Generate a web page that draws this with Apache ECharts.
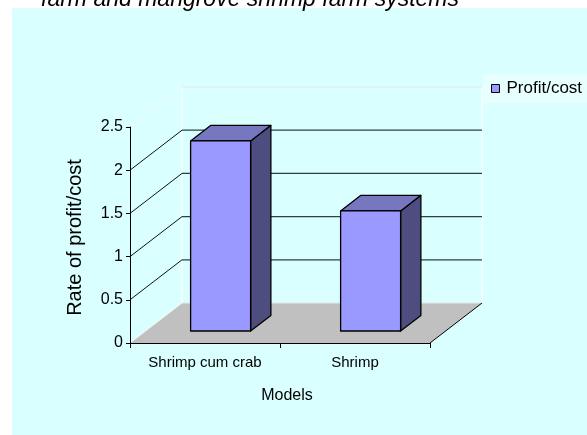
<!DOCTYPE html>
<html>
<head>
<meta charset="utf-8">
<script src="https://cdn.jsdelivr.net/npm/echarts@6/dist/echarts.min.js"></script>
<style>
  html, body { margin: 0; padding: 0; background: #fff; }
  #chart { width: 587px; height: 435px; }
</style>
</head>
<body>
<div id="chart"></div>
<script>
const titleText = 'farm and mangrove shrimp farm systems'
const seriesName = 'Profit/cost'
const categories = ['Shrimp cum crab', 'Shrimp']
const profitCost = [2.2, 1.39]
const yTicks = [0, 0.5, 1, 1.5, 2, 2.5]

// depth of the fake 3D box, in pixels (x right, y up)
const DX = 52
const DY = -40
const BAR_FRONT = 0.3
const BAR_BACK = 0.69

const FONT = '"Liberation Sans", Arial, sans-serif'

const chart = echarts.init(document.getElementById('chart'))

const barData = categories.map((c, i) => [i, profitCost[i]])

const option = {
  animation: false,
  backgroundColor: '#ffffff',
  graphic: [
    {
      type: 'rect',
      shape: { x: 12, y: 8, width: 575, height: 427 },
      style: { fill: '#d9ffff' },
      z: -10
    },
    {
      type: 'text',
      x: 250,
      y: 11,
      style: {
        text: titleText,
        fill: '#000',
        font: 'italic 23px ' + FONT,
        align: 'center',
        verticalAlign: 'bottom'
      }
    }
  ],
  legend: {
    left: 483,
    top: 74,
    padding: [6, 8, 6, 8],
    backgroundColor: '#e8ffff',
    itemWidth: 8,
    itemHeight: 8,
    itemGap: 4,
    textStyle: {
      fontSize: 17,
      color: '#000',
      fontFamily: FONT,
      padding: [0, 0, 0, 2]
    },
    data: [{
      name: seriesName,
      icon: 'rect',
      itemStyle: { color: '#9999ff', borderColor: '#000', borderWidth: 1 }
    }]
  },
  grid: {
    left: 130,
    top: 127,
    width: 300,
    height: 216
  },
  xAxis: {
    type: 'category',
    data: categories,
    z: 10,
    axisLine: { lineStyle: { color: '#000', width: 1 } },
    axisTick: { show: true, length: 5, lineStyle: { color: '#000' } },
    axisLabel: {
      fontSize: 15,
      color: '#000',
      margin: 12,
      fontFamily: FONT
    },
    name: 'Models',
    nameLocation: 'middle',
    nameGap: 45,
    nameTextStyle: {
      fontSize: 16,
      color: '#000',
      fontFamily: FONT,
      padding: [0, 0, 0, 14]
    }
  },
  yAxis: {
    type: 'value',
    min: 0,
    max: 2.5,
    interval: 0.5,
    z: 10,
    axisLine: { show: true, lineStyle: { color: '#000', width: 1 } },
    axisTick: { show: true, length: 4, lineStyle: { color: '#000' } },
    splitLine: { show: false },
    axisLabel: {
      fontSize: 16,
      color: '#000',
      margin: 7,
      fontFamily: FONT
    },
    name: 'Rate of profit/cost',
    nameLocation: 'middle',
    nameRotate: 90,
    nameGap: 45,
    nameTextStyle: {
      fontSize: 20,
      color: '#000',
      fontFamily: FONT,
      padding: [0, 5, 0, 0]
    }
  },
  series: [
    {
      // walls, floor and back gridlines
      type: 'custom',
      silent: true,
      z: 1,
      data: [[0, 0]],
      renderItem: (params, api) => {
        const cs = params.coordSys
        const left = cs.x
        const right = cs.x + cs.width
        const y0 = api.coord([0, 0])[1]
        const children = []
        // floor
        children.push({
          type: 'polygon',
          shape: { points: [[left, y0], [left + DX, y0 + DY], [right + DX, y0 + DY], [right, y0]] },
          style: { fill: '#c0c0c0', stroke: null }
        })
        // back wall vertical edges
        const yTop = api.coord([0, yTicks[yTicks.length - 1]])[1]
        children.push({
          type: 'line',
          shape: { x1: left + DX, y1: yTop + DY, x2: left + DX, y2: y0 + DY },
          style: { stroke: '#ffffff', lineWidth: 1.2 }
        })
        children.push({
          type: 'line',
          shape: { x1: right + DX, y1: yTop + DY, x2: right + DX, y2: y0 + DY },
          style: { stroke: '#ffffff', lineWidth: 1.2 }
        })
        yTicks.forEach((t, i) => {
          const y = api.coord([0, t])[1]
          const isEdge = i === 0 || i === yTicks.length - 1
          // side wall diagonal
          children.push({
            type: 'line',
            shape: { x1: left, y1: y, x2: left + DX, y2: y + DY },
            style: { stroke: isEdge ? '#f4f4f4' : '#111', lineWidth: 1 }
          })
          // back wall gridline
          children.push({
            type: 'line',
            shape: { x1: left + DX, y1: y + DY, x2: right + DX, y2: y + DY },
            style: { stroke: isEdge ? '#e8e8e8' : '#2c4242', lineWidth: 1.2 }
          })
        })
        // floor right edge
        children.push({
          type: 'line',
          shape: { x1: right, y1: y0, x2: right + DX, y2: y0 + DY },
          style: { stroke: '#000', lineWidth: 1 }
        })
        return { type: 'group', children }
      }
    },
    {
      name: seriesName,
      type: 'custom',
      z: 3,
      itemStyle: { color: '#9999ff' },
      data: barData,
      renderItem: (params, api) => {
        const base = api.coord([api.value(0), 0])
        const top = api.coord([api.value(0), api.value(1)])
        const halfW = api.size([1, 0])[0] * 0.2
        const fx = BAR_FRONT * DX, fy = BAR_FRONT * DY
        const bx = BAR_BACK * DX, by = BAR_BACK * DY
        const x0 = base[0] - halfW + fx
        const x1 = base[0] + halfW + fx
        const yb = base[1] + fy
        const yt = top[1] + fy
        const dx = bx - fx, dy = by - fy
        const edge = { stroke: '#000', lineWidth: 1.3, lineJoin: 'round' }
        return {
          type: 'group',
          children: [
            {
              type: 'polygon',
              shape: { points: [[x1, yt], [x1 + dx, yt + dy], [x1 + dx, yb + dy], [x1, yb]] },
              style: Object.assign({ fill: '#4d4d80' }, edge)
            },
            {
              type: 'polygon',
              shape: { points: [[x0, yt], [x0 + dx, yt + dy], [x1 + dx, yt + dy], [x1, yt]] },
              style: Object.assign({ fill: '#7777bf' }, edge)
            },
            {
              type: 'rect',
              shape: { x: x0, y: yt, width: x1 - x0, height: yb - yt },
              style: Object.assign({ fill: '#9999ff' }, edge)
            }
          ]
        }
      }
    }
  ]
}

chart.setOption(option)
window.addEventListener('resize', () => chart.resize())
</script>
</body>
</html>
